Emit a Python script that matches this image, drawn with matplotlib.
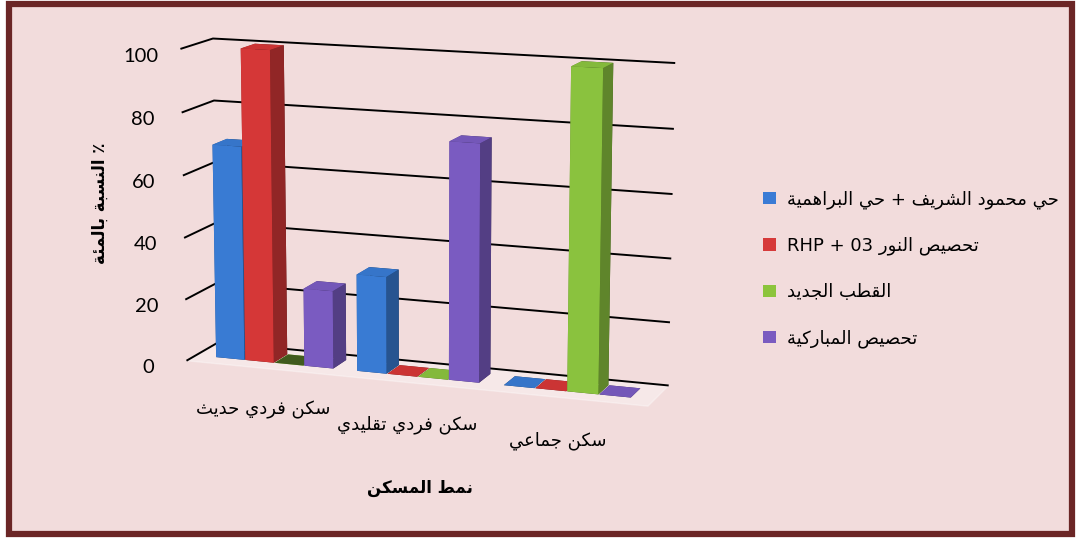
import numpy as np
import matplotlib
matplotlib.use("Agg")
import matplotlib.pyplot as plt
from matplotlib.patches import Rectangle, Patch
from matplotlib.colors import LightSource

# ---------------- data ----------------
categories = ["سكن فردي حديث", "سكن فردي تقليدي", "سكن جماعي"]
series_names = ["حي محمود الشريف + حي البراهمية", "تحصيص النور 03 + RHP",
                "القطب الجديد", "تحصيص المباركية"]
blue_vals = [69, 31, 0]
red_vals = [100, 0, 0]
green_vals = [0, 0, 100]
purple_vals = [25, 75, 0]
series_colors = ["#3E86E6", "#E83C3C", "#97D444", "#8563D2"]
legend_colors = ["#3A7BD5", "#D63A3A", "#8CC43C", "#7A5BC0"]
y_ticks = [0, 20, 40, 60, 80, 100]
x_label = "نمط المسكن"
y_label = "٪ النسبة بالمئة"

# ------------- minimal Arabic shaping (matplotlib has no RTL layout) -------------
DUAL = {'ب': 0xFE8F, 'ت': 0xFE95, 'ث': 0xFE99, 'ج': 0xFE9D, 'ح': 0xFEA1, 'خ': 0xFEA5,
        'س': 0xFEB1, 'ش': 0xFEB5, 'ص': 0xFEB9, 'ض': 0xFEBD, 'ط': 0xFEC1, 'ظ': 0xFEC5,
        'ع': 0xFEC9, 'غ': 0xFECD, 'ف': 0xFED1, 'ق': 0xFED5, 'ك': 0xFED9, 'ل': 0xFEDD,
        'م': 0xFEE1, 'ن': 0xFEE5, 'ه': 0xFEE9, 'ي': 0xFEF1, 'ئ': 0xFE89}
RIGHT = {'ا': 0xFE8D, 'د': 0xFEA9, 'ذ': 0xFEAB, 'ر': 0xFEAD, 'ز': 0xFEAF, 'و': 0xFEED,
         'ة': 0xFE93, 'ى': 0xFEEF}


def shape_word(w):
    out = []
    for i, c in enumerate(w):
        prev = w[i - 1] if i > 0 else ''
        nxt = w[i + 1] if i + 1 < len(w) else ''
        pj = prev in DUAL
        nj = (nxt in DUAL) or (nxt in RIGHT)
        if c in DUAL:
            b = DUAL[c]
            out.append(chr(b + 3) if (pj and nj) else chr(b + 2) if nj else chr(b + 1) if pj else chr(b))
        elif c in RIGHT:
            b = RIGHT[c]
            out.append(chr(b + 1) if pj else chr(b))
        else:
            out.append(c)
    return ''.join(reversed(out))


def is_ar(w):
    return any(c in DUAL or c in RIGHT for c in w)


def ar(s):
    return ' '.join(shape_word(w) if is_ar(w) else w for w in reversed(s.split(' ')))


# ---------------- figure ----------------
W, H = 1078, 538
fig = plt.figure(figsize=(W / 100, H / 100), dpi=100)
fig.patch.set_facecolor("white")
fig.patches.append(Rectangle((9 / W, 4.5 / H), (1072 - 9) / W, (534 - 4.5) / H,
                             transform=fig.transFigure, facecolor="#F2DCDC",
                             edgecolor="#6B2626", linewidth=4.5, zorder=-10))

ax = fig.add_axes([0.0967, 0.1356, 0.58, 0.90], projection="3d")
ax.set_facecolor((0, 0, 0, 0))
ax.patch.set_alpha(0)

all_vals = [blue_vals, red_vals, green_vals, purple_vals]
n_s = len(all_vals)
bw = 0.21
xs, ys, zs, dzs, cols = [], [], [], [], []
for s, vals in enumerate(all_vals):
    for c, v in enumerate(vals):
        xs.append(c + (s - n_s / 2) * bw)
        ys.append(0.3)
        zs.append(0)
        dzs.append(v)
        cols.append(series_colors[s])
ax.bar3d(xs, ys, zs, bw * 0.97, 0.45, dzs, color=cols, shade=True,
         lightsource=LightSource(azdeg=185, altdeg=40))

ax.set_xlim(-0.565, 2.565)
ax.set_ylim(0, 1)
ax.set_zlim(0, 100)
ax.set_box_aspect((1, 0.16, 0.66), zoom=1.19)
ax.view_init(elev=12, azim=-70)
ax.set_proj_type("persp", focal_length=1.0)

for a in (ax.xaxis, ax.yaxis):
    a.set_pane_color((1, 1, 1, 0))
    a.pane.set_edgecolor((1, 1, 1, 0))
ax.zaxis.set_pane_color((1, 1, 1, 0.35))
ax.zaxis.pane.set_edgecolor((1, 1, 1, 0.9))

ax.xaxis._axinfo["grid"].update(linewidth=0)
ax.yaxis._axinfo["grid"].update(linewidth=0)
ax.zaxis._axinfo["grid"].update(color="black", linewidth=1.4, linestyle="-")
for a in (ax.xaxis, ax.yaxis, ax.zaxis):
    a._axinfo["tick"]["inward_factor"] = 0
    a._axinfo["tick"]["outward_factor"] = 0
    a.line.set_color((1, 1, 1, 0))
ax.zaxis.set_ticks_position("lower")

ax.set_xticks(range(len(categories)))
ax.set_xticklabels([ar(c) for c in categories], fontsize=13, family="DejaVu Sans")
ax.set_yticks([])
ax.set_zticks(y_ticks)
ax.set_zticklabels([str(t) for t in y_ticks], fontsize=14.5, family="Lato")
ax.tick_params(axis="x", pad=10)
ax.tick_params(axis="z", pad=7)

fig.text(0.093, 0.623, ar(y_label), rotation=90, ha="center", va="center",
         fontsize=12, fontweight="bold", family="DejaVu Sans")
fig.text(0.39, 0.093, ar(x_label), ha="center", va="center",
         fontsize=12, fontweight="bold", family="DejaVu Sans")

handles = [Patch(facecolor=c, edgecolor="none") for c in legend_colors]
fig.legend(handles, [ar(n) for n in series_names], loc="center left",
           bbox_to_anchor=(0.693, 0.5), frameon=False,
           handlelength=0.7, handleheight=0.7, handletextpad=0.6, labelspacing=1.55,
           prop={"family": "DejaVu Sans", "size": 13})

fig.savefig("out.png", dpi=100, facecolor=fig.get_facecolor())
